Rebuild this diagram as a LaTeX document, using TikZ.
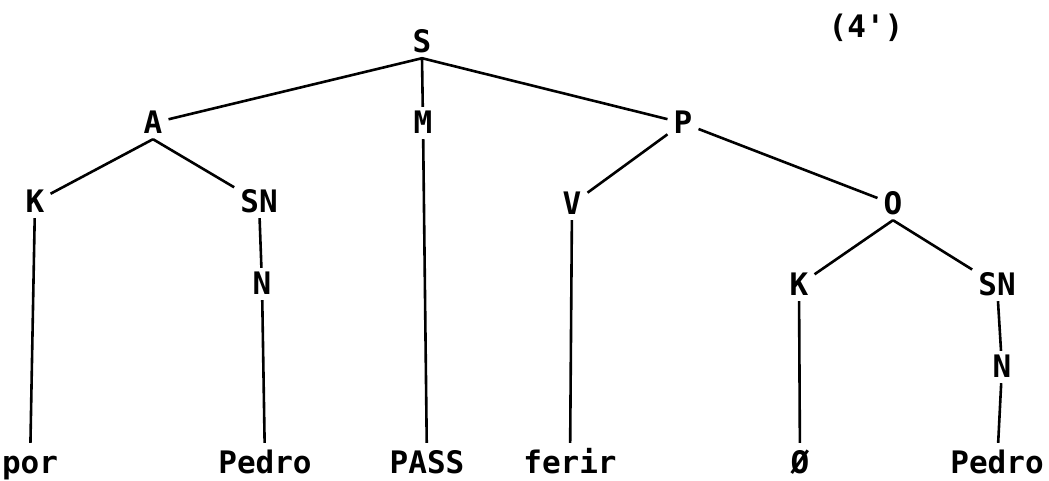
\documentclass[tikz,border=0pt]{standalone}
\usepackage{fontspec}
\setmonofont{DejaVu Sans Mono}
\usepackage{tikz}

\begin{document}
\begin{tikzpicture}[x=1pt, y=-1pt,
    cat/.style={font=\ttfamily\bfseries\fontsize{31}{36}\selectfont, inner sep=6pt, text height=20pt, text depth=0pt},
    word/.style={cat, anchor=base, inner xsep=6pt, inner ysep=10pt, text depth=6pt},
    edge/.style={line width=2.6pt}
]
    \useasboundingbox (0,0) rectangle (1049,480);

    \node[cat] (num) at (866,27) {(4')};

    % categories
    \node[cat] (S) at (422,42) {S};
    \node[cat] (A) at (153,123) {A};
    \node[cat] (M) at (423,123) {M};
    \node[cat] (P) at (683,123) {P};
    \node[cat] (K1) at (35,202) {K};
    \node[cat] (SN1) at (259,202) {SN};
    \node[cat] (V) at (572,204) {V};
    \node[cat] (O) at (893,204) {O};
    \node[cat] (N1) at (262,284) {N};
    \node[cat] (K2) at (799,285) {K};
    \node[cat] (SN2) at (997,285) {SN};
    \node[cat] (N2) at (1002,367) {N};

    % terminals
    \node[word] (por) at (30,473) {por};
    \node[word] (pedro1) at (265,473) {Pedro};
    \node[word] (pass) at (427,473) {PASS};
    \node[word] (ferir) at (570,473) {ferir};
    \node[word] (zero) at (800,473) {Ø};
    \node[word] (pedro2) at (997,473) {Pedro};

    \draw[edge] (S.south) -- (A);
    \draw[edge] (S.south) -- (M);
    \draw[edge] (S.south) -- (P);
    \draw[edge] (A.south) -- (K1);
    \draw[edge] (A.south) -- (SN1);
    \draw[edge] (P) -- (V);
    \draw[edge] (P) -- (O);
    \draw[edge] (O.south) -- (K2);
    \draw[edge] (O.south) -- (SN2);

    \draw[edge] (K1) -- (por);
    \draw[edge] (SN1) -- (N1);
    \draw[edge] (N1) -- (pedro1);
    \draw[edge] (M) -- (pass);
    \draw[edge] (V) -- (ferir);
    \draw[edge] (K2) -- (zero);
    \draw[edge] (SN2) -- (N2);
    \draw[edge] (N2) -- (pedro2);
\end{tikzpicture}
\end{document}
